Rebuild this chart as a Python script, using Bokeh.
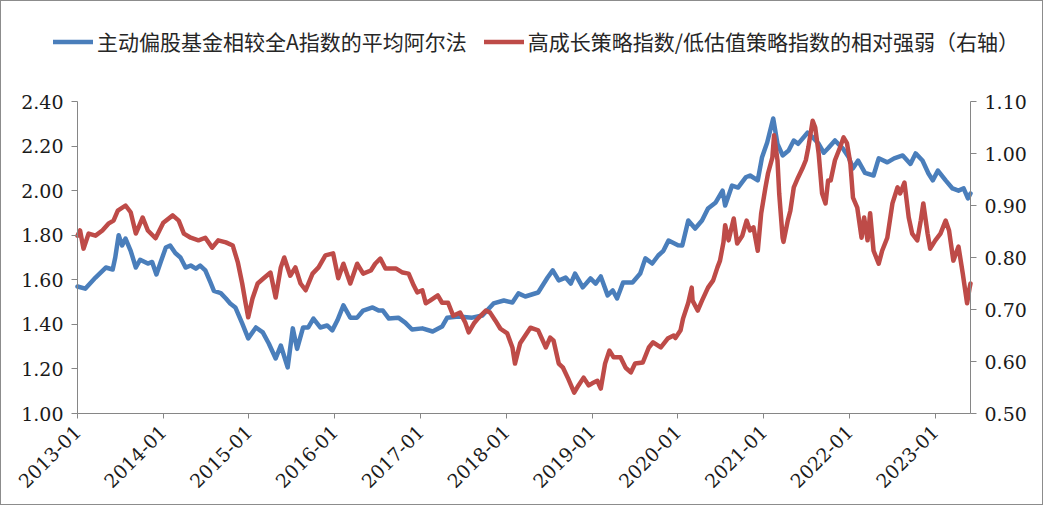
import pandas as pd
from math import pi
from bokeh.plotting import figure
from bokeh.models import (Range1d, LinearAxis, FixedTicker, NumeralTickFormatter,
                          DatetimeTickFormatter, Legend, LegendItem)
from bokeh.embed import file_html
from bokeh.resources import INLINE

# ---------------- data (years elapsed since 2013-01, value) ----------------
blue_years = [0.00, 0.09, 0.21, 0.33, 0.41, 0.44, 0.48, 0.52, 0.56, 0.62, 0.68, 0.73, 0.82, 0.87,
              0.92, 0.97, 1.03, 1.08, 1.14, 1.20, 1.26, 1.32, 1.38, 1.43, 1.49, 1.55, 1.59, 1.67,
              1.73, 1.78, 1.84, 1.92, 1.99, 2.08, 2.16, 2.23, 2.31, 2.37, 2.45, 2.51, 2.56, 2.63,
              2.69, 2.75, 2.83, 2.91, 2.97, 3.03, 3.10, 3.18, 3.26, 3.33, 3.44, 3.51, 3.56, 3.63,
              3.74, 3.82, 3.90, 4.02, 4.14, 4.25, 4.31, 4.44, 4.60, 4.72, 4.85, 4.97, 5.07, 5.14,
              5.22, 5.37, 5.48, 5.54, 5.61, 5.69, 5.75, 5.80, 5.89, 5.98, 6.04, 6.10, 6.18, 6.24,
              6.29, 6.36, 6.47, 6.56, 6.62, 6.70, 6.77, 6.83, 6.89, 7.00, 7.05, 7.12, 7.20, 7.28,
              7.35, 7.44, 7.52, 7.55, 7.63, 7.70, 7.79, 7.84, 7.93, 7.98, 8.04, 8.11, 8.16, 8.22,
              8.29, 8.35, 8.40, 8.51, 8.57, 8.64, 8.70, 8.75, 8.83, 8.92, 8.99, 9.04, 9.10, 9.18,
              9.28, 9.34, 9.44, 9.52, 9.62, 9.71, 9.77, 9.85, 9.92, 9.97, 10.03, 10.12, 10.20,
              10.27, 10.33, 10.38, 10.41]
blue_alpha = [1.570, 1.560, 1.610, 1.655, 1.646, 1.700, 1.800, 1.754, 1.785, 1.730, 1.655, 1.690,
              1.673, 1.680, 1.624, 1.680, 1.745, 1.754, 1.720, 1.700, 1.655, 1.664, 1.650, 1.664,
              1.642, 1.588, 1.550, 1.540, 1.516, 1.494, 1.476, 1.404, 1.337, 1.386, 1.364, 1.314,
              1.247, 1.305, 1.207, 1.382, 1.290, 1.386, 1.386, 1.426, 1.386, 1.395, 1.373, 1.418,
              1.485, 1.430, 1.430, 1.462, 1.476, 1.462, 1.462, 1.426, 1.430, 1.408, 1.377, 1.382,
              1.368, 1.390, 1.430, 1.435, 1.430, 1.440, 1.494, 1.507, 1.498, 1.539, 1.525, 1.543,
              1.610, 1.642, 1.597, 1.610, 1.583, 1.628, 1.566, 1.606, 1.583, 1.615, 1.530, 1.552,
              1.516, 1.588, 1.588, 1.628, 1.696, 1.673, 1.709, 1.730, 1.776, 1.755, 1.754, 1.866,
              1.830, 1.866, 1.920, 1.947, 2.000, 1.933, 2.023, 2.014, 2.060, 2.068, 2.046, 2.150,
              2.216, 2.324, 2.210, 2.158, 2.180, 2.225, 2.210, 2.260, 2.240, 2.210, 2.170, 2.190,
              2.225, 2.190, 2.150, 2.100, 2.135, 2.080, 2.068, 2.145, 2.127, 2.145, 2.158, 2.120,
              2.167, 2.135, 2.077, 2.046, 2.090, 2.046, 2.010, 2.000, 2.010, 1.965, 1.987]

red_years = [0.00, 0.03, 0.07, 0.13, 0.21, 0.29, 0.36, 0.42, 0.47, 0.56, 0.62, 0.68, 0.76, 0.82,
             0.91, 1.00, 1.11, 1.18, 1.24, 1.32, 1.41, 1.49, 1.57, 1.64, 1.73, 1.81, 1.87, 1.92,
             1.96, 1.99, 2.04, 2.10, 2.17, 2.25, 2.31, 2.37, 2.41, 2.48, 2.54, 2.60, 2.66, 2.74,
             2.81, 2.89, 2.98, 3.04, 3.10, 3.18, 3.26, 3.33, 3.42, 3.47, 3.53, 3.59, 3.71, 3.79,
             3.86, 3.92, 3.96, 4.02, 4.06, 4.11, 4.20, 4.25, 4.32, 4.38, 4.46, 4.52, 4.56, 4.62,
             4.67, 4.76, 4.81, 4.87, 4.93, 5.01, 5.07, 5.10, 5.16, 5.22, 5.28, 5.37, 5.46, 5.51,
             5.55, 5.61, 5.66, 5.72, 5.79, 5.84, 5.90, 5.96, 6.00, 6.06, 6.10, 6.15, 6.20, 6.25,
             6.33, 6.39, 6.45, 6.50, 6.59, 6.66, 6.71, 6.80, 6.88, 6.95, 6.97, 7.03, 7.06, 7.12,
             7.16, 7.17, 7.23, 7.28, 7.35, 7.41, 7.46, 7.49, 7.53, 7.55, 7.59, 7.65, 7.69, 7.75,
             7.80, 7.84, 7.88, 7.93, 7.97, 8.02, 8.05, 8.10, 8.12, 8.16, 8.18, 8.22, 8.23, 8.28,
             8.31, 8.35, 8.40, 8.45, 8.49, 8.52, 8.57, 8.60, 8.64, 8.68, 8.72, 8.75, 8.78, 8.83,
             8.89, 8.93, 8.97, 9.01, 9.04, 9.09, 9.14, 9.17, 9.21, 9.24, 9.28, 9.34, 9.38, 9.44,
             9.50, 9.56, 9.59, 9.64, 9.69, 9.73, 9.79, 9.83, 9.86, 9.91, 9.94, 10.00, 10.06,
             10.12, 10.16, 10.21, 10.27, 10.32, 10.37, 10.40, 10.41]
red_ratio = [0.842, 0.852, 0.817, 0.846, 0.842, 0.852, 0.865, 0.871, 0.890, 0.900, 0.887, 0.846,
             0.877, 0.852, 0.837, 0.867, 0.881, 0.871, 0.846, 0.838, 0.833, 0.838, 0.819, 0.833,
             0.829, 0.823, 0.790, 0.750, 0.712, 0.685, 0.721, 0.750, 0.760, 0.771, 0.723, 0.781,
             0.800, 0.765, 0.781, 0.750, 0.737, 0.769, 0.781, 0.804, 0.808, 0.760, 0.788, 0.750,
             0.788, 0.769, 0.775, 0.788, 0.798, 0.779, 0.779, 0.771, 0.769, 0.746, 0.733, 0.737,
             0.712, 0.717, 0.727, 0.713, 0.713, 0.688, 0.694, 0.675, 0.656, 0.673, 0.683, 0.698,
             0.694, 0.679, 0.663, 0.654, 0.627, 0.596, 0.635, 0.650, 0.665, 0.660, 0.627, 0.646,
             0.640, 0.596, 0.588, 0.567, 0.540, 0.554, 0.569, 0.554, 0.558, 0.563, 0.548, 0.596,
             0.621, 0.608, 0.608, 0.588, 0.579, 0.596, 0.598, 0.627, 0.637, 0.627, 0.644, 0.650,
             0.645, 0.660, 0.683, 0.713, 0.742, 0.717, 0.698, 0.717, 0.742, 0.756, 0.781, 0.794,
             0.829, 0.862, 0.833, 0.875, 0.827, 0.842, 0.871, 0.852, 0.858, 0.813, 0.885, 0.935,
             0.962, 0.992, 1.035, 0.987, 0.923, 0.838, 0.830, 0.871, 0.890, 0.935, 0.954, 0.971,
             0.987, 1.012, 1.063, 1.050, 1.000, 0.923, 0.904, 0.948, 0.948, 0.987, 1.012, 1.031,
             1.020, 0.980, 0.915, 0.896, 0.838, 0.877, 0.833, 0.885, 0.813, 0.788, 0.813, 0.838,
             0.904, 0.935, 0.923, 0.944, 0.877, 0.846, 0.833, 0.871, 0.904, 0.846, 0.817, 0.833,
             0.846, 0.871, 0.852, 0.794, 0.821, 0.769, 0.712, 0.742, 0.750]

tick_years = [2013, 2014, 2015, 2016, 2017, 2018, 2019, 2020, 2021, 2022, 2023]
left_ticks = [1.00, 1.20, 1.40, 1.60, 1.80, 2.00, 2.20, 2.40]
right_ticks = [0.50, 0.60, 0.70, 0.80, 0.90, 1.00, 1.10]
left_lim = (1.0, 2.4)
right_lim = (0.5, 1.1)
span_years = 10.41

name_blue = "主动偏股基金相较全A指数的平均阿尔法"
name_red = "高成长策略指数/低估值策略指数的相对强弱（右轴）"

# ---------------- layout constants (pixels inside the plot canvas) ----------------
W, H = 1043, 505
AX_L, AX_R = 76, 969     # x pixel of left / right value axes
AX_T, AX_B = 100, 412    # y pixel of top / bottom of value axes

START = pd.Timestamp("2013-01-01")
DAY = pd.Timedelta(days=1)


def to_dates(years):
    return [START + pd.Timedelta(days=y * 365.25) for y in years]


blue_x = to_dates(blue_years)
red_x = to_dates(red_years)
end_date = START + pd.Timedelta(days=span_years * 365.25)

# extend ranges so the frame covers the whole canvas, keeping axes at the reference spots
days_per_px = span_years * 365.25 / (AX_R - AX_L)
x0 = START - pd.Timedelta(days=AX_L * days_per_px)
x1 = end_date + pd.Timedelta(days=(W - AX_R) * days_per_px)
lu = (left_lim[1] - left_lim[0]) / (AX_B - AX_T)
ru = (right_lim[1] - right_lim[0]) / (AX_B - AX_T)
y0 = left_lim[0] - (H - AX_B) * lu
y1 = left_lim[1] + AX_T * lu
r0 = right_lim[0] - (H - AX_B) * ru
r1 = right_lim[1] + AX_T * ru

BLUE = "#4A7EBB"
RED = "#BE4B48"
AXIS = "#868686"
TXT = "#1a1a1a"
NUMFONT = "DejaVu Serif"

p = figure(width=W, height=H, x_axis_type="datetime",
           x_range=Range1d(x0, x1), y_range=Range1d(y0, y1),
           output_backend="svg", toolbar_location=None, tools="")
p.styles = {"border": "1px solid #8c8c8c"}
p.min_border = 0
p.min_border_left = 0
p.min_border_right = 0
p.min_border_top = 0
p.min_border_bottom = 0
p.outline_line_color = None
p.xgrid.grid_line_color = None
p.ygrid.grid_line_color = None
p.background_fill_color = "white"
p.border_fill_color = "white"

p.extra_y_ranges = {"right": Range1d(r0, r1)}

r_blue = p.line(blue_x, blue_alpha, line_color=BLUE, line_width=4.5, line_join="round", line_cap="round")
r_red = p.line(red_x, red_ratio, line_color=RED, line_width=4.5, line_join="round", line_cap="round",
               y_range_name="right")

start_ms = START.timestamp() * 1000
end_ms = end_date.timestamp() * 1000

# x axis
xa = p.xaxis[0]
xa.ticker = FixedTicker(ticks=[pd.Timestamp(f"{y}-01-01").timestamp() * 1000 for y in tick_years])
xa.formatter = DatetimeTickFormatter(years="%Y-%m", months="%Y-%m", days="%Y-%m", hours="%Y-%m",
                                     minutes="%Y-%m", seconds="%Y-%m", milliseconds="%Y-%m",
                                     microseconds="%Y-%m", hourmin="%Y-%m", minsec="%Y-%m")
xa.major_label_orientation = pi / 4
xa.major_label_standoff = 10
xa.fixed_location = left_lim[0]
xa.bounds = (start_ms, end_ms)

# left axis
ya = p.yaxis[0]
ya.ticker = FixedTicker(ticks=left_ticks)
ya.formatter = NumeralTickFormatter(format="0.00")
ya.major_label_standoff = 8
ya.fixed_location = start_ms
ya.bounds = left_lim

# right axis
ra = LinearAxis(y_range_name="right", ticker=FixedTicker(ticks=right_ticks),
                formatter=NumeralTickFormatter(format="0.00"))
ra.major_label_standoff = 8
ra.fixed_location = end_ms
ra.bounds = right_lim
p.add_layout(ra, "right")

for ax in (xa, ya, ra):
    ax.axis_line_color = AXIS
    ax.axis_line_width = 1
    ax.major_tick_line_color = AXIS
    ax.major_tick_in = 0
    ax.major_tick_out = 6
    ax.minor_tick_line_color = None
    ax.major_label_text_font = NUMFONT
    ax.major_label_text_font_size = "19px"
    ax.major_label_text_color = TXT
xa.major_tick_out = 5

legend = Legend(items=[LegendItem(label=name_blue, renderers=[r_blue]),
                       LegendItem(label=name_red, renderers=[r_red])],
                location=(52, H - 55), orientation="horizontal")
legend.padding = 0
legend.margin = 0
legend.spacing = 17
legend.glyph_width = 40
legend.glyph_height = 21
legend.label_height = 21
legend.label_standoff = 4
legend.border_line_color = None
legend.background_fill_alpha = 0
legend.label_text_font = "Noto Sans CJK SC"
legend.label_text_font_size = "21px"
legend.label_text_color = "#262626"
p.add_layout(legend, "center")

open("out.html", "w").write(file_html(p, INLINE))
